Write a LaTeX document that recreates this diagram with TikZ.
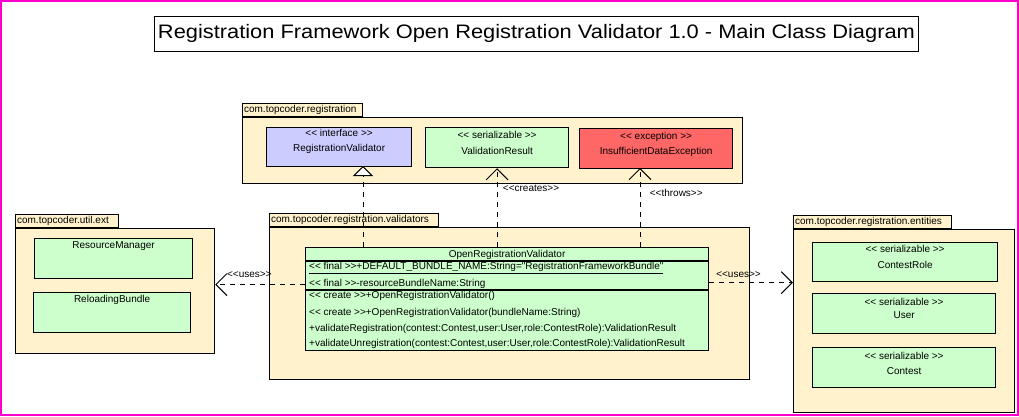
\documentclass[tikz,border=0pt]{standalone}
\usepackage{fontspec}
\newfontfamily\umlfont{Liberation Sans}
\usetikzlibrary{positioning,calc,arrows.meta}

\definecolor{pkgfill}{RGB}{255,242,204}
\definecolor{clsgreen}{RGB}{204,255,204}
\definecolor{clsblue}{RGB}{204,204,255}
\definecolor{clsred}{RGB}{255,102,102}
\definecolor{pagepink}{RGB}{255,0,204}

\begin{document}
\begin{tikzpicture}[x=1pt,y=-1pt,font=\umlfont\fontsize{10}{12}\selectfont]
    \tikzstyle{pkg}=[draw, fill=pkgfill, line width=1.2pt, inner sep=0pt, anchor=north west]
    \tikzstyle{pkgtab}=[draw, fill=pkgfill, line width=1.2pt, inner xsep=1.5pt, inner ysep=0pt, minimum height=13pt, anchor=south west, align=left]
    \tikzstyle{cls}=[draw, line width=1.2pt, inner sep=0pt, anchor=north west, fill=clsgreen]
    \tikzstyle{member}=[anchor=west, inner sep=0pt]
    \tikzstyle{realize}=[line width=1pt, dash pattern=on 5pt off 5pt, -{Triangle[length=10pt,width=20pt,fill=white]}]
    \tikzstyle{dep}=[line width=1pt, dash pattern=on 5pt off 5pt, -{Straight Barb[length=11pt,width=22pt]}]

    \useasboundingbox (0,0) rectangle (1019,416);
    \draw[pagepink, line width=2pt] (1,1) rectangle (1018,415);

    \node[draw, line width=1pt, minimum width=763pt, minimum height=35pt, font=\umlfont\fontsize{19.5}{22}\selectfont] (title) at (536.5,33.5) {\scalebox{1.12}[1]{Registration Framework Open Registration Validator 1.0 - Main Class Diagram}};

    % packages
    \node[pkg, minimum width=500pt, minimum height=66pt] (reg) at (242,117) {};
    \node[pkgtab, text width=117pt] (regtab) at (reg.north west) {com.topcoder.registration};
    \node[pkg, minimum width=199pt, minimum height=125pt] (util) at (15,228) {};
    \node[pkgtab, text width=100pt] (utiltab) at (util.north west) {com.topcoder.util.ext};
    \node[pkg, minimum width=480pt, minimum height=152pt] (val) at (269,227) {};
    \node[pkgtab, text width=166pt] (valtab) at (val.north west) {com.topcoder.registration.validators};
    \node[pkg, minimum width=221pt, minimum height=183pt] (ent) at (793,229) {};
    \node[pkgtab, text width=155pt] (enttab) at (ent.north west) {com.topcoder.registration.entities};

    % com.topcoder.registration
    \node[cls, fill=clsblue, minimum width=145pt, minimum height=39pt] (rv) at (266,127) {};
    \node at ($(rv.north)+(0,6)$) {<< interface >>};
    \node at ($(rv.north)+(0,22)$) {RegistrationValidator};
    \node[cls, minimum width=143pt, minimum height=40pt] (vr) at (425,127) {};
    \node at ($(vr.north)+(0,8)$) {<< serializable >>};
    \node at ($(vr.north)+(0,24)$) {ValidationResult};
    \node[cls, fill=clsred, minimum width=153pt, minimum height=40pt] (ide) at (579,128) {};
    \node at ($(ide.north)+(0,9)$) {<< exception >>};
    \node at ($(ide.north)+(0,24)$) {InsufficientDataException};

    % com.topcoder.util.ext
    \node[cls, minimum width=158pt, minimum height=40pt] (rm) at (34,238) {};
    \node at ($(rm.north)+(0,8)$) {ResourceManager};
    \node[cls, minimum width=157pt, minimum height=40pt] (rb) at (33,292) {};
    \node at ($(rb.north)+(0,8)$) {ReloadingBundle};

    % com.topcoder.registration.entities
    \node[cls, minimum width=185pt, minimum height=39pt] (cr) at (812,242) {};
    \node at ($(cr.north)+(0,7)$) {<< serializable >>};
    \node at ($(cr.north)+(0,23)$) {ContestRole};
    \node[cls, minimum width=183pt, minimum height=40pt] (usr) at (812,293) {};
    \node at ($(usr.north)+(0,9)$) {<< serializable >>};
    \node at ($(usr.north)+(0,22)$) {User};
    \node[cls, minimum width=183pt, minimum height=40pt] (con) at (812,347) {};
    \node at ($(con.north)+(0,9)$) {<< serializable >>};
    \node at ($(con.north)+(0,24)$) {Contest};

    % com.topcoder.registration.validators
    \node[cls, minimum width=403pt, minimum height=103pt] (orv) at (305,247) {};
    \draw[line width=1.2pt] ($(orv.north west)+(0,14)$) -- ($(orv.north east)+(0,14)$);
    \draw[line width=1.2pt] ($(orv.north west)+(0,43)$) -- ($(orv.north east)+(0,43)$);
    \node at ($(orv.north)+(0,8)$) {OpenRegistrationValidator};
    \node[member] at ($(orv.north west)+(4,21)$) {\underline{<< final >>+DEFAULT\_BUNDLE\_NAME:String="RegistrationFrameworkBundle"}};
    \node[member] at ($(orv.north west)+(4,37)$) {<< final >>-resourceBundleName:String};
    \node[member] at ($(orv.north west)+(4,49)$) {<< create >>+OpenRegistrationValidator()};
    \node[member] at ($(orv.north west)+(4,66)$) {<< create >>+OpenRegistrationValidator(bundleName:String)};
    \node[member] at ($(orv.north west)+(4,82)$) {+validateRegistration(contest:Contest,user:User,role:ContestRole):ValidationResult};
    \node[member] at ($(orv.north west)+(4,97)$) {+validateUnregistration(contest:Contest,user:User,role:ContestRole):ValidationResult};

    % connectors
    \coordinate (rvfoot) at (363,166);
    \coordinate (idefoot) at (640,168);
    \draw[realize] (orv.north -| rvfoot) -- (rvfoot);
    \draw[dep] (orv.north -| vr.south) -- (vr.south) node[pos=0.74, right=2pt] {<<creates>>};
    \draw[dep] (orv.north -| idefoot) -- (idefoot) node[pos=0.68, right=6pt] {<<throws>>};
    \draw[dep] ([yshift=14.5pt]orv.west) -- ([yshift=14.5pt]orv.west -| util.east) node[pos=0.62, above=3pt] {<<uses>>};
    \draw[dep] ([yshift=16.5pt]orv.east) -- ([yshift=16.5pt]orv.east -| ent.west) node[pos=0.35, above=1pt] {<<uses>>};
\end{tikzpicture}
\end{document}
